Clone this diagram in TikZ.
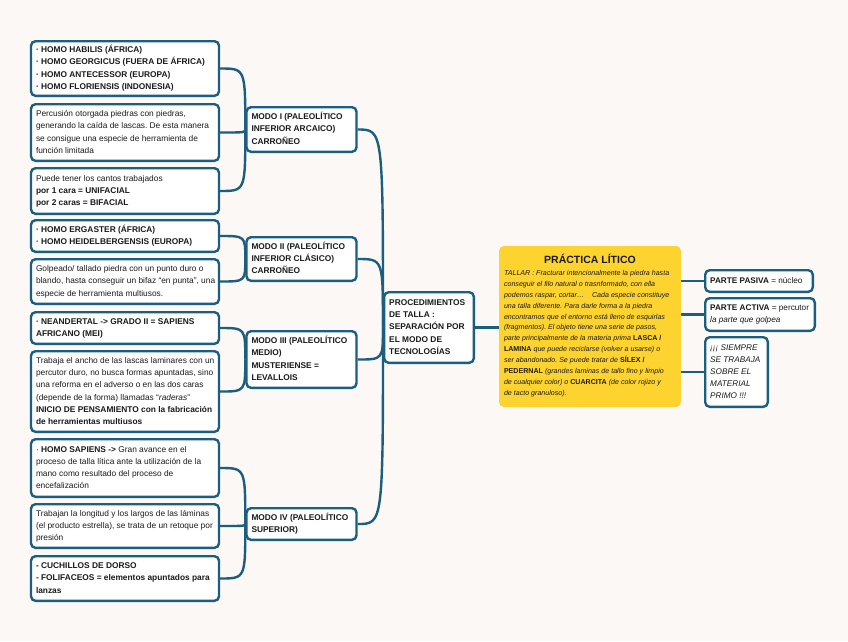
\documentclass[tikz,border=0pt]{standalone}
\usepackage{fontspec}
\setmainfont{Liberation Sans}
\frenchspacing
\definecolor{lnc}{HTML}{1B5E7E}
\definecolor{bgc}{HTML}{FBF8F5}
\definecolor{ylc}{HTML}{FDD330}
\definecolor{txc}{HTML}{1A1A1A}
\newcommand\txtl[2]{\makebox[#1][l]{\begin{tabular}{@{}l@{}}#2\end{tabular}}}
\tikzset{
  box/.style={draw=lnc, line width=2.4pt, rounded corners=4.5pt, fill=white,
    inner xsep=5pt, inner ysep=0pt, text=txc,
    font=\fontsize{8.35}{12.2}\selectfont},
  lbox/.style={box, minimum width=188pt},
  mbox/.style={box, minimum width=110pt, font=\fontsize{8.35}{12.4}\selectfont\bfseries},
  rbox/.style={box, font=\fontsize{8.2}{12}\selectfont},
  conn/.style={draw=lnc, line width=2.4pt},
}
\begin{document}
\begin{tikzpicture}[x=1pt,y=-1pt]
\fill[bgc] (0,0) rectangle (848,641);
\useasboundingbox (0,0) rectangle (848,641);

% left column
\node[lbox, minimum height=54.6pt, font=\fontsize{8.35}{12.2}\selectfont\bfseries] (L1) at (125,68.5)
 {\txtl{178pt}{· HOMO HABILIS (ÁFRICA)\\· HOMO GEORGICUS (FUERA DE ÁFRICA)\\· HOMO ANTECESSOR (EUROPA)\\· HOMO FLORIENSIS (INDONESIA)}};
\node[lbox, minimum height=56.6pt] (L2) at (125,132.5)
 {\txtl{178pt}{Percusión otorgada piedras con piedras,\\generando la caída de lascas. De esta manera\\se consigue una especie de herramienta de\\función limitada}};
\node[lbox, minimum height=45.6pt] (L3) at (125,191)
 {\txtl{178pt}{Puede tener los cantos trabajados\\\textbf{por 1 cara = UNIFACIAL}\\\textbf{por 2 caras = BIFACIAL}}};
\node[lbox, minimum height=31.6pt, font=\fontsize{8.35}{12.2}\selectfont\bfseries] (L4) at (125,236)
 {\txtl{178pt}{· HOMO ERGASTER (ÁFRICA)\\· HOMO HEIDELBERGENSIS (EUROPA)}};
\node[lbox, minimum height=44.6pt] (L5) at (125,281.5)
 {\txtl{178pt}{Golpeado/ tallado piedra con un punto duro o\\blando, hasta conseguir un bifaz “en punta”, una\\especie de herramienta multiusos.}};
\node[lbox, minimum height=31.6pt, font=\fontsize{8.35}{12.2}\selectfont\bfseries] (L6) at (125,328)
 {\txtl{178pt}{· NEANDERTAL -> GRADO II = SAPIENS\\AFRICANO (MEI)}};
\node[lbox, minimum height=80.6pt] (L7) at (125,391.5)
 {\txtl{178pt}{Trabaja el ancho de las lascas laminares con un\\percutor duro, no busca formas apuntadas, sino\\una reforma en el adverso o en las dos caras\\(depende de la forma) llamadas “\textit{raderas}”\\\textbf{INICIO DE PENSAMIENTO con la fabricación}\\\textbf{de herramientas multiusos}}};
\node[lbox, minimum height=57.6pt] (L8) at (125,468)
 {\txtl{178pt}{· \textbf{HOMO SAPIENS ->} Gran avance en el\\proceso de talla lítica ante la utilización de la\\mano como resultado del proceso de\\encefalización}};
\node[lbox, minimum height=43.6pt] (L9) at (125,526)
 {\txtl{178pt}{Trabajan la longitud y los largos de las láminas\\(el producto estrella), se trata de un retoque por\\presión}};
\node[lbox, minimum height=44.6pt, font=\fontsize{8.35}{12.2}\selectfont\bfseries] (L10) at (125,578.5)
 {\txtl{178pt}{- CUCHILLOS DE DORSO\\- FOLIFACEOS = elementos apuntados para\\lanzas}};

% mode boxes
\node[mbox, minimum height=44.6pt] (M1) at (301.5,129.5) {\txtl{100pt}{MODO I (PALEOLÍTICO\\INFERIOR ARCAICO)\\CARROÑEO}};
\node[mbox, minimum height=43.6pt] (M2) at (301.5,259) {\txtl{100pt}{MODO II (PALEOLÍTICO\\INFERIOR CLÁSICO)\\CARROÑEO}};
\node[mbox, minimum height=56.6pt] (M3) at (301.5,359.5) {\txtl{100pt}{MODO III (PALEOLÍTICO\\MEDIO)\\MUSTERIENSE =\\LEVALLOIS}};
\node[mbox, minimum height=31.6pt] (M4) at (301.5,524) {\txtl{100pt}{MODO IV (PALEOLÍTICO\\SUPERIOR)}};

% centre
\node[box, minimum width=89.6pt, minimum height=70.6pt, font=\fontsize{8.35}{12.4}\selectfont\bfseries] (C) at (429,327.5)
 {\txtl{79.6pt}{PROCEDIMIENTOS\\DE TALLA :\\SEPARACIÓN POR\\EL MODO DE\\TECNOLOGÍAS}};

% yellow
\node[fill=ylc, rounded corners=5pt, inner xsep=5pt, inner ysep=0pt, minimum width=182pt, minimum height=161pt, text=txc, align=center] (Y) at (590,326.5)
 {{\fontsize{10.5}{12}\selectfont\bfseries PRÁCTICA LÍTICO}\\[3pt]
  {\fontsize{7.1}{10.9}\selectfont\itshape\txtl{172pt}{%
  TALLAR : Fracturar intencionalmente la piedra hasta\\
  conseguir el filo natural o trasnformado, con ella\\
  podemos raspar, cortar…\hspace{6pt} Cada especie constituye\\
  una talla diferente. Para darle forma a la piedra\\
  encontramos que el entorno está lleno de esquirlas\\
  (fragmentos). El objeto tiene una serie de pasos,\\
  parte principalmente de la materia prima {\upshape\bfseries LASCA /}\\
  {\upshape\bfseries LAMINA} que puede reciclarse (volver a usarse) o\\
  ser abandonado. Se puede tratar de {\upshape\bfseries SÍLEX /}\\
  {\upshape\bfseries PEDERNAL} (grandes laminas de tallo fino y limpio\\
  de cualquier color) o {\upshape\bfseries CUARCITA} (de color rojizo y\\
  de tacto granuloso).}}};

% right boxes
\node[rbox, minimum width=107.6pt, minimum height=21.6pt] (R1) at (759,281) {\txtl{97.6pt}{\textbf{PARTE PASIVA} = núcleo}};
\node[rbox, minimum width=109.6pt, minimum height=32.6pt] (R2) at (760,314.5) {\txtl{99.6pt}{\textbf{PARTE ACTIVA} = percutor\\\textit{la parte que golpea}}};
\node[rbox, minimum width=62.6pt, minimum height=69.6pt, font=\fontsize{8.2}{12.2}\selectfont\itshape] (R3) at (736.5,372) {\txtl{52.6pt}{¡¡¡ SIEMPRE\\SE TRABAJA\\SOBRE EL\\MATERIAL\\PRIMO !!!}};

% connectors
\begin{scope}[conn]
\draw (C.east) -- (C.east -| Y.west);
\draw (Y.east |- R1.west) -- (R1.west);
\draw (Y.east |- R2.west) -- (R2.west);
\draw (Y.east |- R3.west) -- (R3.west);
\foreach \m in {M1,M2,M3,M4}
  \draw (\m.east) .. controls (C.west |- \m.east) .. (C.west);
\foreach \l in {L1,L2,L3}
  \draw (\l.east) .. controls (M1.west |- \l.east) .. (M1.west);
\foreach \l in {L4,L5}
  \draw (\l.east) .. controls (M2.west |- \l.east) .. (M2.west);
\foreach \l in {L6,L7}
  \draw (\l.east) .. controls (M3.west |- \l.east) .. (M3.west);
\foreach \l in {L8,L9,L10}
  \draw (\l.east) .. controls (M4.west |- \l.east) .. (M4.west);
\end{scope}
\end{tikzpicture}
\end{document}
